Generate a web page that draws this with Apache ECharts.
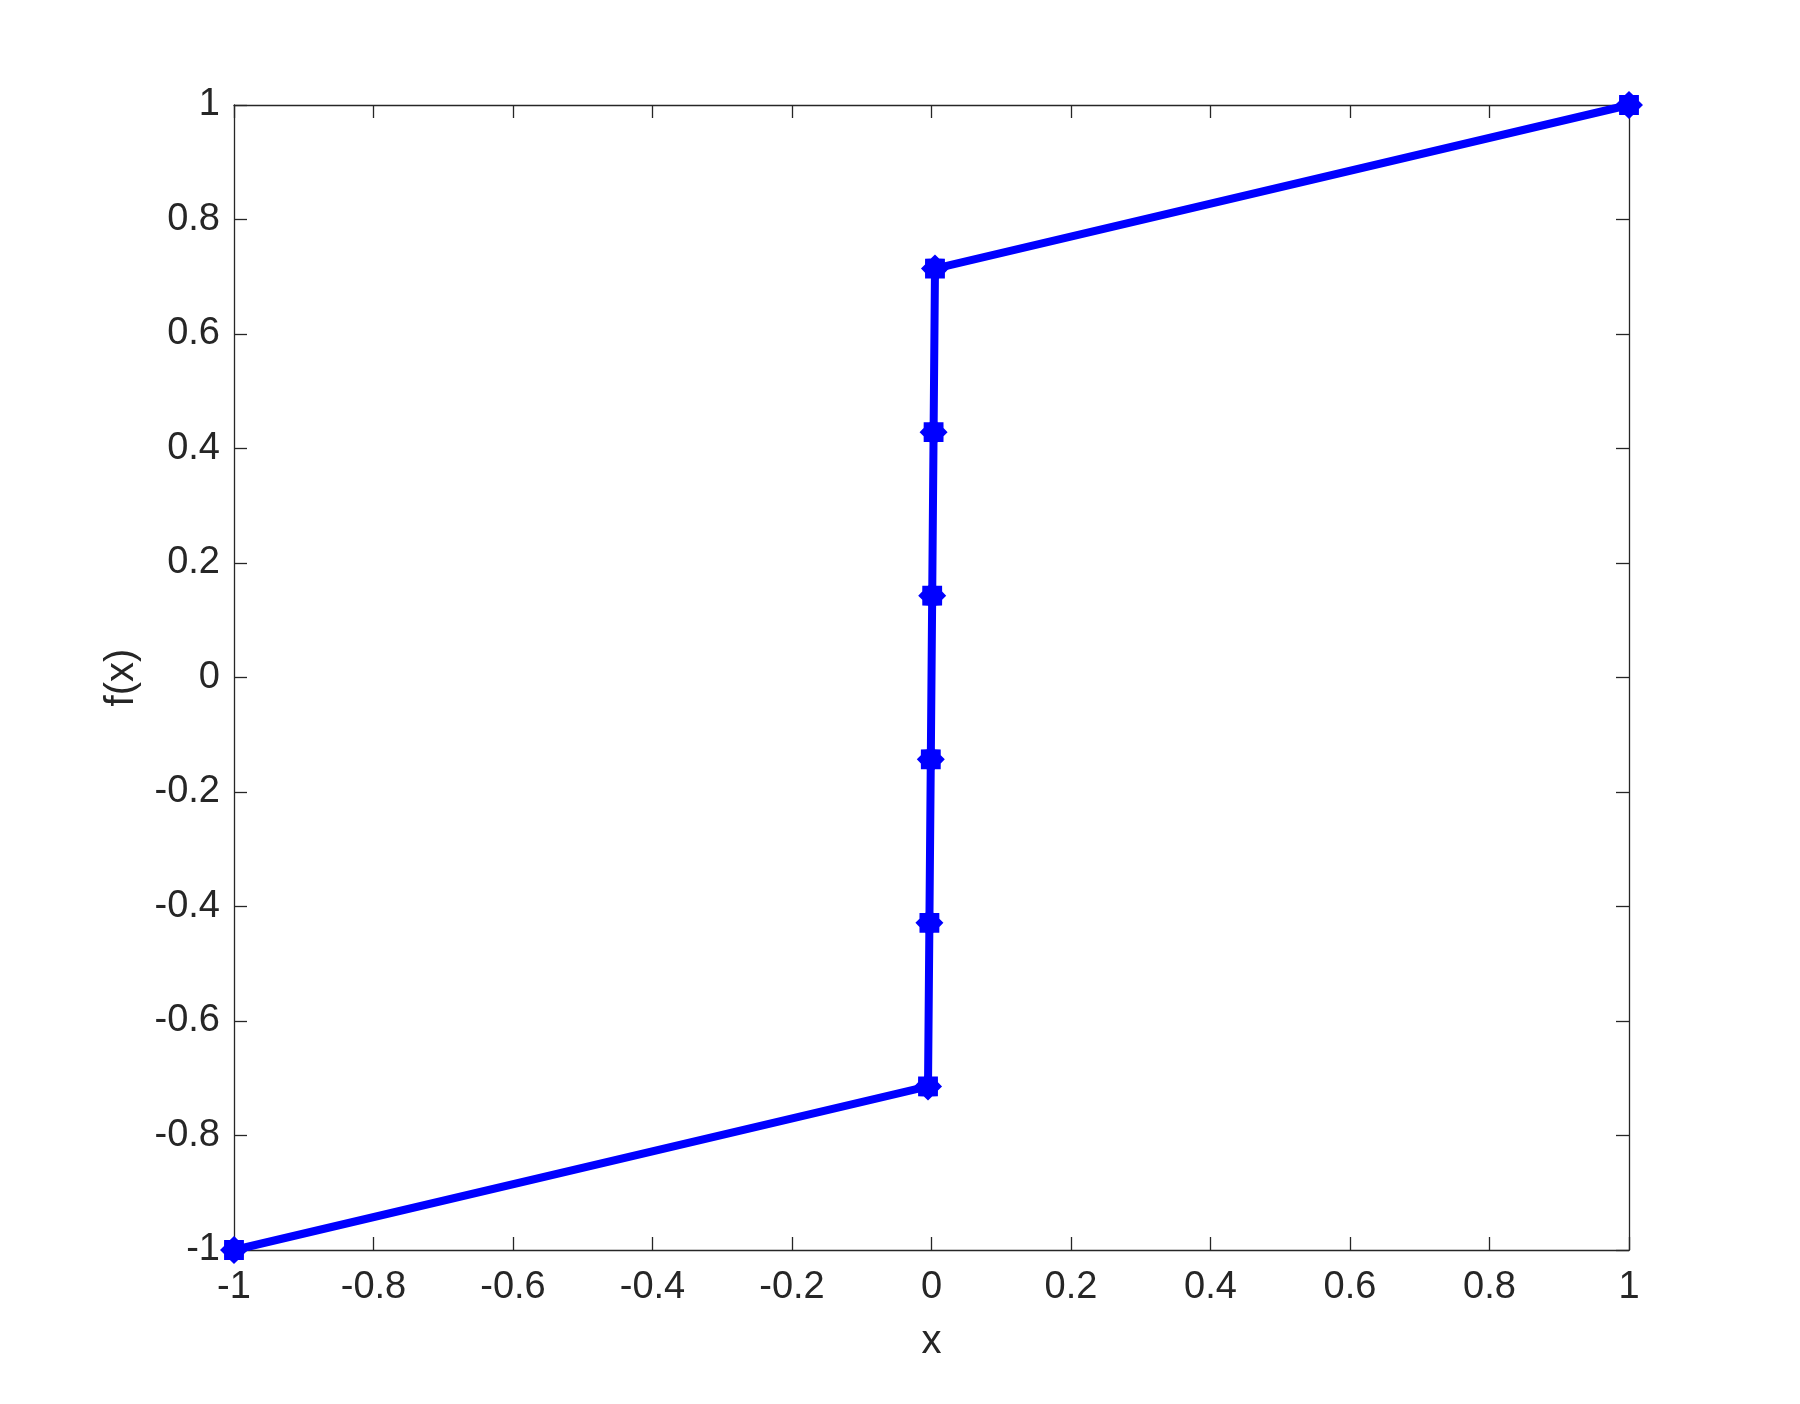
<!DOCTYPE html>
<html>
<head>
<meta charset="utf-8">
<script src="https://cdn.jsdelivr.net/npm/echarts@6/dist/echarts.min.js"></script>
<style>
  html, body { margin: 0; padding: 0; background: #fff; }
  #main { width: 1800px; height: 1404px; }
</style>
</head>
<body>
<div id="main"></div>
<script>
// data
var xValues = [-1, -0.005, -0.003, -0.001, 0.001, 0.003, 0.005, 1];
var fValues = [-1, -0.7143, -0.4286, -0.1429, 0.1429, 0.4286, 0.7143, 1];
var tickStep = 0.2;

var ink = "#262626";
var font = "Helvetica, 'Liberation Sans', Arial, sans-serif";

// asterisk-ish marker (gear shaped polygon)
function starPath(n, rOut, rIn) {
  var pts = [];
  for (var i = 0; i < n * 2; i++) {
    var r = i % 2 === 0 ? rOut : rIn;
    var a = Math.PI * i / n - Math.PI / 2;
    pts.push((r * Math.cos(a)).toFixed(3) + " " + (r * Math.sin(a)).toFixed(3));
  }
  return "path://M" + pts.join(" L") + " Z";
}

var points = xValues.map(function (x, i) { return [x, fValues[i]]; });

var chart = echarts.init(document.getElementById("main"));

function axisBase(pos, showLabels, name) {
  return {
    type: "value",
    position: pos,
    min: -1,
    max: 1,
    interval: tickStep,
    name: name || "",
    nameLocation: "middle",
    nameTextStyle: { color: ink, fontSize: 40, fontFamily: font },
    axisLine: { show: true, onZero: false, lineStyle: { color: ink, width: 1.3 } },
    axisTick: { show: true, inside: true, length: 13, lineStyle: { color: ink, width: 1.3 } },
    axisLabel: {
      show: showLabels,
      color: ink,
      fontSize: 38,
      fontFamily: font,
      showMinLabel: true,
      showMaxLabel: true
    },
    splitLine: { show: false }
  };
}

var xb = axisBase("bottom", true, "x");
xb.nameGap = 72;
xb.axisLabel.margin = 19;
var xt = axisBase("top", false);
var yl = axisBase("left", true, "f(x)");
yl.nameGap = 92;
yl.axisLabel.margin = 14;
var yr = axisBase("right", false);

chart.setOption({
  animation: false,
  backgroundColor: "#fff",
  grid: { left: 234, right: 171, top: 105, bottom: 154, containLabel: false },
  xAxis: [xb, xt],
  yAxis: [yl, yr],
  series: [{
    type: "line",
    data: points,
    xAxisIndex: 0,
    yAxisIndex: 0,
    lineStyle: { color: "#0000ff", width: 8 },
    itemStyle: { color: "#0000ff" },
    symbol: starPath(8, 13, 10),
    symbolSize: 28,
    showAllSymbol: true,
    clip: false
  }]
});
</script>
</body>
</html>
